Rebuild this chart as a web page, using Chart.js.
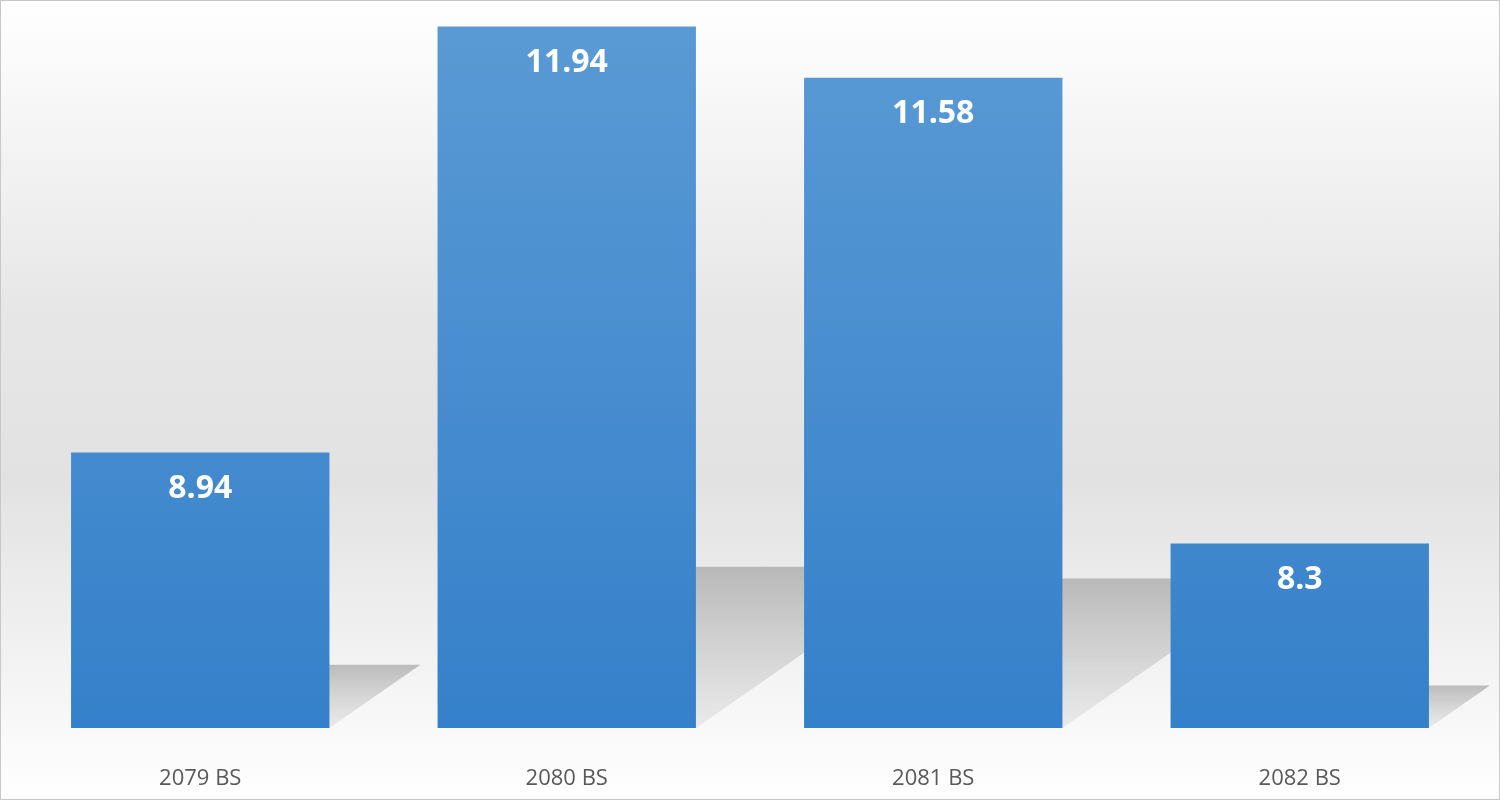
<!DOCTYPE html>
<html>
<head>
<meta charset="utf-8">
<script src="https://cdn.jsdelivr.net/npm/chart.js@4/dist/chart.umd.min.js"></script>
<style>
  html, body { margin: 0; padding: 0; }
  body { width: 1500px; height: 800px; box-sizing: border-box; border: 1px solid #c8c8c8;
    background: linear-gradient(to bottom, #ffffff 0%, #e6e6e6 40%, #e2e2e2 60%, #ffffff 100%); }
  #wrap { position: relative; width: 1498px; height: 798px; }
</style>
</head>
<body>
<div id="wrap"><canvas id="chart"></canvas></div>
<script>
// Chart data
const categories = ['2079 BS', '2080 BS', '2081 BS', '2082 BS'];
const values = [8.94, 11.94, 11.58, 8.3];

// Floor shadow behind each bar
const shadowPlugin = {
  id: 'shadows',
  beforeDatasetsDraw(chart) {
    const ctx = chart.ctx;
    const bottom = chart.chartArea.bottom;
    chart.getDatasetMeta(0).data.forEach(bar => {
      const h = bottom - bar.y;
      const left = bar.x - bar.width / 2, right = bar.x + bar.width / 2;
      const dx = h * 0.33, dy = h * 0.23;
      const g = ctx.createLinearGradient(0, bottom - dy, 0, bottom);
      g.addColorStop(0, 'rgba(150,150,150,0.6)');
      g.addColorStop(1, 'rgba(190,190,190,0.25)');
      ctx.save();
      ctx.fillStyle = g;
      ctx.beginPath();
      ctx.moveTo(left, bottom);
      ctx.lineTo(left + dx, bottom - dy);
      ctx.lineTo(right + dx, bottom - dy);
      ctx.lineTo(right, bottom);
      ctx.closePath();
      ctx.fill();
      ctx.restore();
    });
  }
};

// Value labels inside bar tops
const labelPlugin = {
  id: 'valueLabels',
  afterDatasetsDraw(chart) {
    const ctx = chart.ctx;
    ctx.save();
    ctx.fillStyle = '#ffffff';
    ctx.font = 'bold 32px "Open Sans", sans-serif';
    ctx.textAlign = 'center';
    ctx.textBaseline = 'middle';
    chart.getDatasetMeta(0).data.forEach((bar, i) => {
      ctx.fillText(String(values[i]), bar.x, bar.y + 36);
    });
    ctx.restore();
  }
};

new Chart(document.getElementById('chart'), {
  type: 'bar',
  data: {
    labels: categories,
    datasets: [{
      data: values,
      backgroundColor: (c) => {
        const area = c.chart.chartArea;
        if (!area) return '#4a8fd2';
        const g = c.chart.ctx.createLinearGradient(0, area.top, 0, area.bottom);
        g.addColorStop(0, '#5b9bd5');
        g.addColorStop(1, '#3580ca');
        return g;
      },
      barPercentage: 0.705,
      categoryPercentage: 1
    }]
  },
  options: {
    responsive: true,
    maintainAspectRatio: false,
    animation: false,
    layout: { padding: { left: 16, right: 16, top: 0, bottom: 0 } },
    plugins: { legend: { display: false }, tooltip: { enabled: false } },
    scales: {
      y: { display: false, min: 7, max: 12.12 },
      x: {
        grid: { display: false },
        border: { display: false },
        afterFit: (scale) => { scale.height = 71; },
        ticks: { color: '#595959', font: { family: '"Open Sans", sans-serif', size: 22 }, padding: 30 }
      }
    }
  },
  plugins: [shadowPlugin, labelPlugin]
});
</script>
</body>
</html>
